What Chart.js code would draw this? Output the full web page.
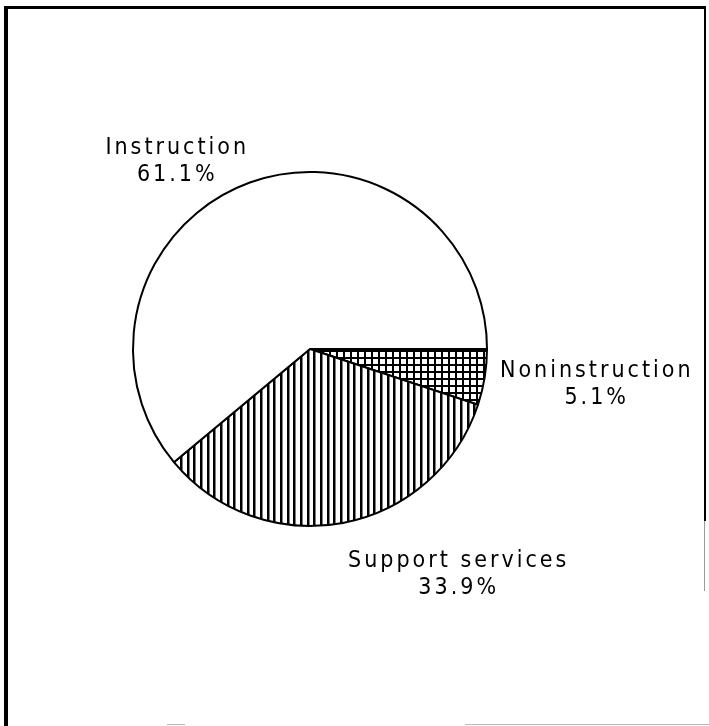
<!DOCTYPE html>
<html>
<head>
<meta charset="utf-8">
<script src="https://cdn.jsdelivr.net/npm/chart.js@4/dist/chart.umd.min.js"></script>
<style>
  html, body { margin: 0; padding: 0; background: #fff; }
  #wrap { position: relative; width: 709px; height: 726px; overflow: hidden; }
  #grafico { position: absolute; left: 0; top: 0; }
  .linha { position: absolute; background: #000; }
</style>
</head>
<body>
<div id="wrap">
  <canvas id="grafico" width="709" height="726"></canvas>
  <!-- moldura do quadro escaneado -->
  <div class="linha" style="left:4px;top:7px;width:4px;height:719px;"></div>
  <div class="linha" style="left:4px;top:6px;width:702px;height:3px;"></div>
  <div class="linha" style="left:704px;top:6px;width:2px;height:515px;"></div>
  <div class="linha" style="left:704px;top:521px;width:1px;height:70px;background:#999;"></div>
  <div class="linha" style="left:465px;top:724px;width:244px;height:1px;background:#bbb;"></div>
  <div class="linha" style="left:167px;top:724px;width:18px;height:1px;background:#bbb;"></div>
</div>
<script>
// Dados (ordem horária a partir das 3 horas)
const categorias = ['Noninstruction', 'Support services', 'Instruction'];
const percentuais = [5.1, 33.9, 61.1];

// Hachuras
function hachuraVertical() {
  const c = document.createElement('canvas');
  c.width = 20; c.height = 20;
  const g = c.getContext('2d');
  g.fillStyle = '#fff'; g.fillRect(0, 0, 20, 20);
  g.fillStyle = '#000';
  [0, 7, 13].forEach(x => g.fillRect(x, 0, 2.5, 20));
  return g.createPattern(c, 'repeat');
}

function hachuraGrade() {
  const c = document.createElement('canvas');
  c.width = 7; c.height = 7;
  const g = c.getContext('2d');
  g.fillStyle = '#fff'; g.fillRect(0, 0, 7, 7);
  g.fillStyle = '#000';
  g.fillRect(0, 0, 2, 7);
  g.fillRect(0, 0, 7, 2);
  return g.createPattern(c, 'repeat');
}

const ctx = document.getElementById('grafico').getContext('2d');

// Rótulos fora das fatias (posição relativa ao raio)
const rotulosPlugin = {
  id: 'rotulos',
  afterDatasetsDraw(chart, args, opts) {
    const meta = chart.getDatasetMeta(0);
    const c = chart.ctx;
    c.save();
    c.fillStyle = '#000';
    c.font = '23px "DejaVu Sans Condensed", "DejaVu Sans", sans-serif';
    c.letterSpacing = '3px';
    c.textAlign = 'center';
    c.textBaseline = 'middle';
    meta.data.forEach((arc, i) => {
      const p = arc.getProps(['x', 'y', 'outerRadius'], true);
      const [fx, fy] = opts.posicoes[i];
      const x = p.x + fx * p.outerRadius;
      const y = p.y + fy * p.outerRadius;
      c.fillText(categorias[i], x, y - 13);
      c.fillText(percentuais[i].toFixed(1) + '%', x, y + 14);
    });
    c.restore();
  }
};

new Chart(ctx, {
  type: 'pie',
  data: {
    labels: categorias,
    datasets: [{
      data: percentuais,
      backgroundColor: [hachuraGrade(), hachuraVertical(), '#ffffff'],
      borderColor: '#000',
      borderWidth: 2
    }]
  },
  options: {
    responsive: false,
    animation: false,
    rotation: 90,
    layout: { padding: { left: 132, right: 221, top: 169, bottom: 197 } },
    plugins: {
      legend: { display: false },
      tooltip: { enabled: false },
      rotulos: {
        posicoes: [[1.62, 0.20], [0.84, 1.27], [-0.75, -1.06]]
      }
    }
  },
  plugins: [rotulosPlugin]
});
</script>
</body>
</html>
